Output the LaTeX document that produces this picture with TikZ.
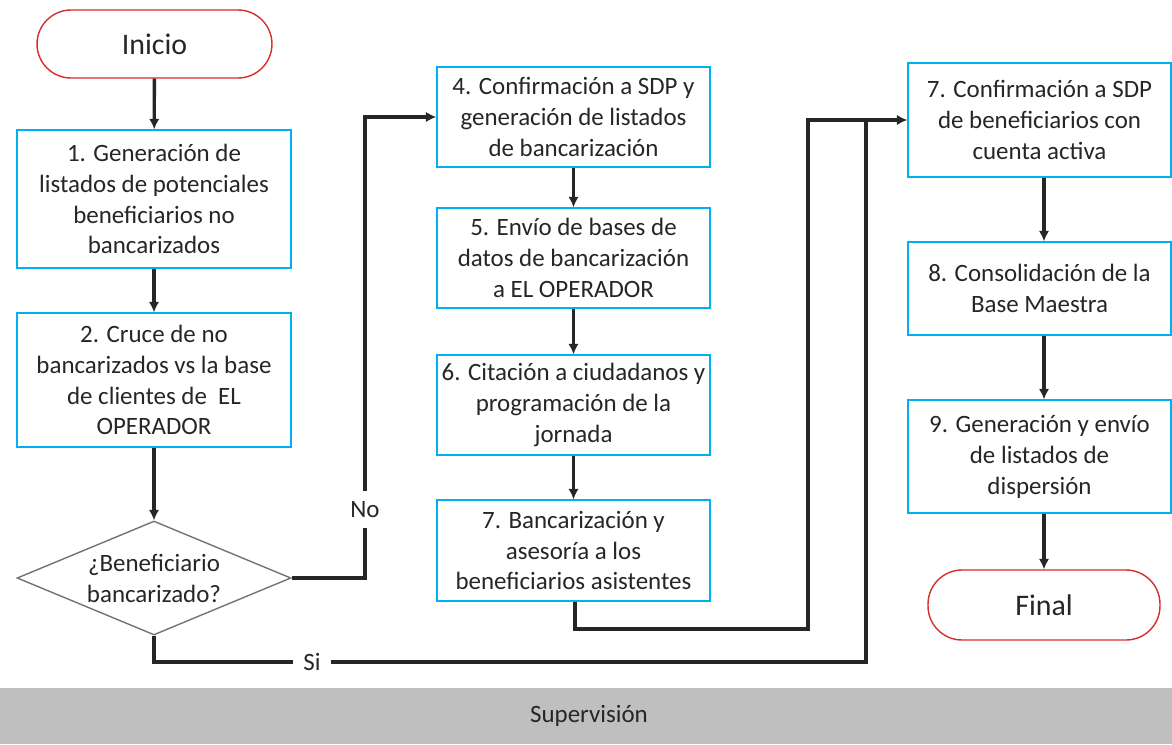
\documentclass[tikz,border=0pt]{standalone}
\usepackage{fontspec}
\setmainfont{Carlito}
\usetikzlibrary{shapes.geometric,arrows.meta}
\definecolor{azul}{RGB}{0,176,240}
\definecolor{rojo}{RGB}{215,45,45}
\definecolor{gris}{RGB}{191,191,191}
\definecolor{texto}{RGB}{38,38,38}

\tikzset{
  caja/.style={draw=azul,line width=0.8pt,fill=white,align=center,inner sep=0pt,
    text=texto,font=\fontsize{14.2}{17.6}\selectfont},
  term/.style={draw=rojo,line width=0.8pt,rounded corners=0.68cm,align=center,
    text=texto,font=\fontsize{17}{19}\selectfont},
  decision/.style={draw=black!55,line width=0.8pt,diamond,inner sep=0pt,
    minimum width=5.48cm,minimum height=2.28cm},
  rotulo/.style={align=center,text=texto,font=\fontsize{14.2}{17.6}\selectfont},
  etiq/.style={fill=white,inner sep=6pt,text=texto,font=\fontsize{14.2}{16}\selectfont},
  linea/.style={line width=1.9pt,draw=texto},
  flecha/.style={linea,-{Latex[length=6pt,width=6pt]}}
}

\begin{document}
\begin{tikzpicture}[x=0.02cm,y=-0.02cm]
\useasboundingbox (0,0) rectangle (1172,744);

%Columna izquierda
\node[term,minimum width=4.7cm,minimum height=1.36cm] (ini) at (154.5,44) {Inicio};
\node[caja,minimum width=5.48cm,minimum height=2.76cm] (b1) at (154,199)
  {1. Generación de\\listados de potenciales\\beneficiarios no\\bancarizados};
\node[caja,minimum width=5.48cm,minimum height=2.68cm] (b2) at (154,380)
  {2. Cruce de no\\bancarizados vs la base\\de clientes de \ EL\\OPERADOR};
\node[decision] (dec) at (154,578) {};
\node[rotulo] (dect) at (dec) {¿Beneficiario\\bancarizado?};

%Columna central
\node[caja,minimum width=5.46cm,minimum height=2cm] (b4) at (573.5,117)
  {4. Confirmación a SDP y\\generación de listados\\de bancarización};
\node[caja,minimum width=5.46cm,minimum height=2cm] (b5) at (573.5,258)
  {5. Envío de bases de\\datos de bancarización\\a EL OPERADOR};
\node[caja,minimum width=5.46cm,minimum height=2cm] (b6) at (573.5,405)
  {6. Citación a ciudadanos y\\programación de la\\jornada};
\node[caja,minimum width=5.46cm,minimum height=2.02cm] (b7) at (573.5,550.5)
  {7. Bancarización y\\asesoría a los\\beneficiarios asistentes};

%Columna derecha
\node[caja,minimum width=5.26cm,minimum height=2.28cm] (r7) at (1039.5,120)
  {7. Confirmación a SDP\\de beneficiarios con\\cuenta activa};
\node[caja,minimum width=5.26cm,minimum height=1.86cm] (r8) at (1039.5,288.5)
  {8. Consolidación de la\\Base Maestra};
\node[caja,minimum width=5.26cm,minimum height=2.26cm] (r9) at (1039.5,456.5)
  {9. Generación y envío\\de listados de\\dispersión};
\node[term,minimum width=4.64cm,minimum height=1.4cm] (fin) at (1044,605) {Final};

%Supervision
\node[fill=gris,minimum width=23.44cm,minimum height=1.12cm,inner sep=0pt,
  rotulo] (sup) at (586,716) {\hspace*{0.12cm}Supervisión};

%Flechas
\draw[flecha] (ini) -- (b1);
\draw[flecha] (b1) -- (b2);
\draw[flecha] (b2) -- (dec);
\draw[flecha] (b4) -- (b5);
\draw[flecha] (b5) -- (b6);
\draw[flecha] (b6) -- (b7);
\draw[flecha] (r7.south -| fin) -- (r8.north -| fin);
\draw[flecha] (r8.south -| fin) -- (r9.north -| fin);
\draw[flecha] (r9.south -| fin) -- (fin);

%No
\coordinate (noesq) at (365,578);
\coordinate (noarr) at (365,117);
\draw[flecha] (dec.east) -- (noesq) -- node[etiq,pos=0.148] {No} (noarr) -- (b4.west);

%Si
\coordinate (siesq) at (154,662);
\coordinate (sider) at (866,662);
\coordinate (siarr) at (866,120);
\draw[linea] (dec.south) -- (siesq) -- node[etiq,pos=0.222] {Si} (sider) -- (siarr);

%Bancarizacion -> confirmacion
\coordinate (bcab) at (575,629);
\coordinate (bder) at (808,629);
\coordinate (barr) at (808,120);
\draw[flecha] (b7.south -| bcab) -- (bcab) -- (bder) -- (barr) -- (r7.west);

\end{tikzpicture}
\end{document}
